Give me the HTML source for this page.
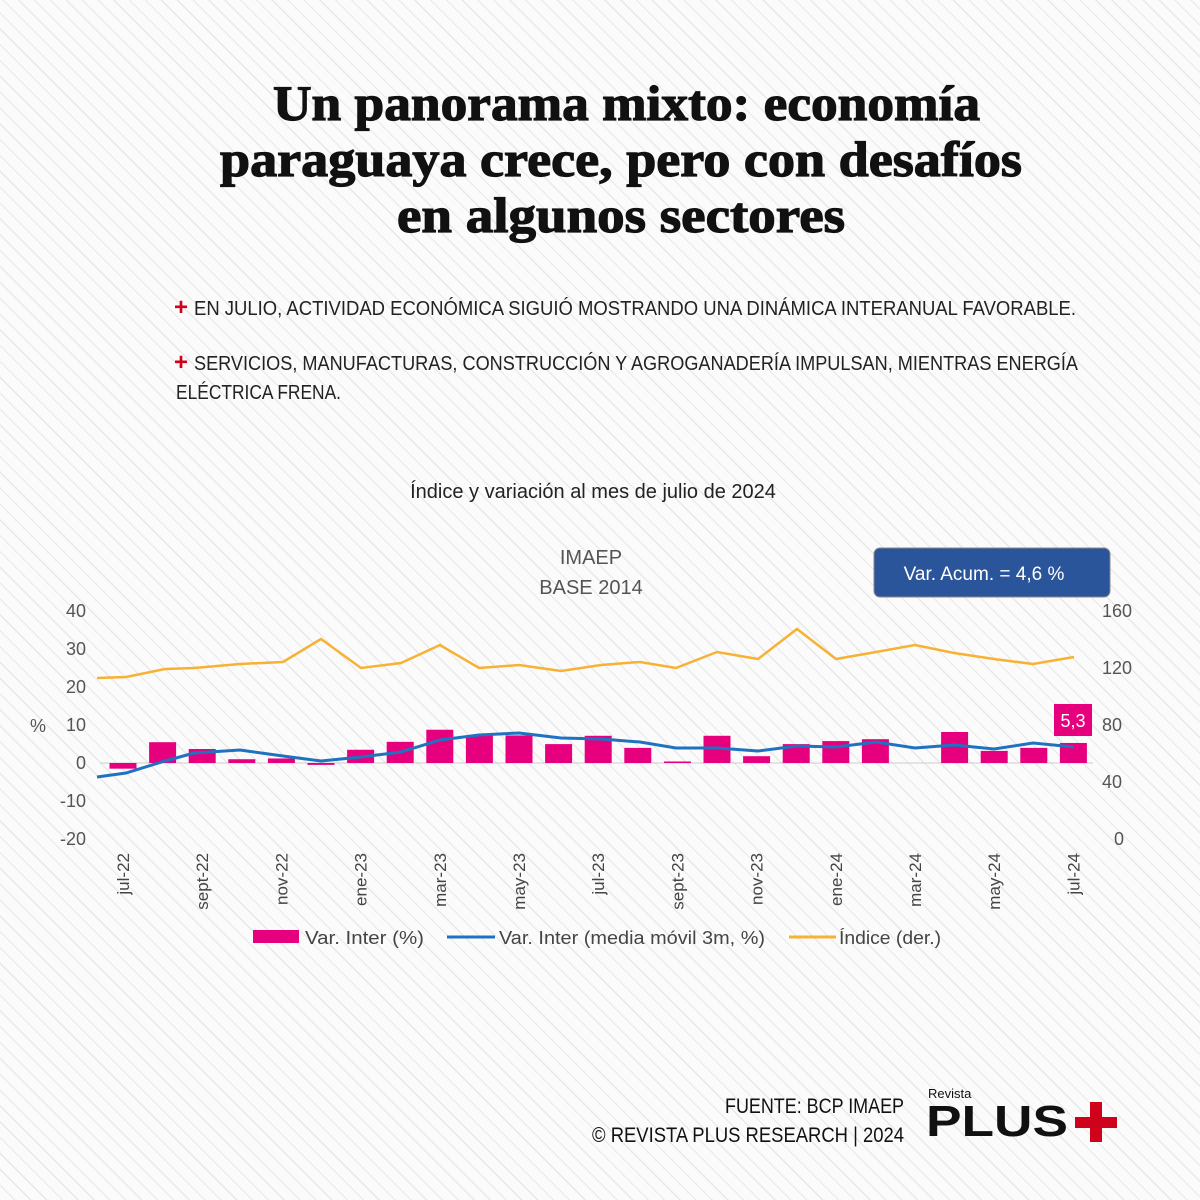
<!DOCTYPE html>
<html><head><meta charset="utf-8"><style>
body{margin:0}
#p{width:1200px;height:1200px;position:relative;overflow:hidden;background:#fbfbfb;
background-image:repeating-linear-gradient(45deg,#fbfbfb 0 10px,#e8e8e8 10px 11.2px);}
svg{position:absolute;left:0;top:0}
</style></head><body><div id="p">
<svg width="1200" height="1200" viewBox="0 0 1200 1200" xmlns="http://www.w3.org/2000/svg">
<g font-family="Liberation Serif, serif" font-weight="bold" font-size="50" fill="#111" stroke="#111" stroke-width="1.2">
<text x="273" y="120" textLength="707" lengthAdjust="spacingAndGlyphs">Un panorama mixto: economía</text>
<text x="220" y="176" textLength="802" lengthAdjust="spacingAndGlyphs">paraguaya crece, pero con desafíos</text>
<text x="397" y="232" textLength="448" lengthAdjust="spacingAndGlyphs">en algunos sectores</text>
</g>
<g font-family="Liberation Sans Narrow, Liberation Sans, sans-serif" font-size="20" fill="#222">
<text x="174" y="315" fill="#d0021b" font-weight="bold" font-size="24">+</text>
<text x="194" y="315" textLength="882" lengthAdjust="spacingAndGlyphs">EN JULIO, ACTIVIDAD ECONÓMICA SIGUIÓ MOSTRANDO UNA DINÁMICA INTERANUAL FAVORABLE.</text>
<text x="174" y="370" fill="#d0021b" font-weight="bold" font-size="24">+</text>
<text x="194" y="370" textLength="884" lengthAdjust="spacingAndGlyphs">SERVICIOS, MANUFACTURAS, CONSTRUCCIÓN Y AGROGANADERÍA IMPULSAN, MIENTRAS ENERGÍA</text>
<text x="176" y="399" textLength="165" lengthAdjust="spacingAndGlyphs">ELÉCTRICA FRENA.</text>
</g>
<g font-family="Liberation Sans, sans-serif">
<text x="593" y="498" font-size="20" fill="#222" text-anchor="middle">Índice y variación al mes de  julio de 2024</text>
<text x="591" y="564" font-size="20" fill="#555" text-anchor="middle">IMAEP</text>
<text x="591" y="594" font-size="20" fill="#555" text-anchor="middle">BASE 2014</text>
<rect x="874" y="548" width="236" height="49" rx="6" fill="#2b559b" stroke="#888" stroke-width="1"/>
<text x="984" y="580" font-size="19" fill="#fff" text-anchor="middle">Var. Acum. =  4,6 %</text>
<g font-size="18" fill="#555" text-anchor="end">
<text x="86" y="617">40</text><text x="86" y="655">30</text><text x="86" y="693">20</text>
<text x="86" y="731">10</text><text x="86" y="769">0</text><text x="86" y="807">-10</text><text x="86" y="845">-20</text>
</g>
<text x="30" y="732" font-size="18" fill="#555">%</text>
<g font-size="18" fill="#555">
<text x="1102" y="617">160</text><text x="1102" y="674">120</text><text x="1102" y="731">80</text>
<text x="1102" y="788">40</text><text x="1114" y="845">0</text>
</g>
<line x1="100" y1="763" x2="1093" y2="763" stroke="#ccc" stroke-width="1"/>
<g fill="#e6007e" id="bars"></g>
<polyline fill="none" stroke="#f7b234" stroke-width="2.5" points="97,678 126,677 165,669 194,668 240,664 283,662 321,639 361,668 401,663 440,645 479,668 519,665 561,671 601,665 640,662 676,668 717,652 758,659 797,629 836,659 876,652 915,645 954,653 994,659 1033,664 1074,657"/>
<polyline fill="none" stroke="#1f72c0" stroke-width="3" points="97,777 126,773 165,761 194,753 240,750 283,756 321,761 361,757 401,752 440,740 479,735 519,733 561,738 601,739 640,742 676,748 717,748 758,751 797,746 836,747 876,742 915,748 954,745 994,749 1033,743 1074,747"/>
<rect x="1054" y="704" width="38" height="32" fill="#e6007e"/>
<text x="1073" y="727" font-size="18" fill="#fff" text-anchor="middle">5,3</text>
<g font-size="17" fill="#444" text-anchor="end" id="xl"></g>
<rect x="253" y="930" width="46" height="13" fill="#e6007e"/>
<text x="305" y="944" font-size="18" fill="#444" textLength="119" lengthAdjust="spacingAndGlyphs">Var. Inter (%)</text>
<line x1="447" y1="937" x2="495" y2="937" stroke="#1f72c0" stroke-width="3"/>
<text x="499" y="944" font-size="18" fill="#444" textLength="266" lengthAdjust="spacingAndGlyphs">Var. Inter (media móvil 3m, %)</text>
<line x1="789" y1="937" x2="836" y2="937" stroke="#f7b234" stroke-width="3"/>
<text x="839" y="944" font-size="18" fill="#444" textLength="102" lengthAdjust="spacingAndGlyphs">Índice (der.)</text>
</g>
<g font-family="Liberation Sans Narrow, Liberation Sans, sans-serif" font-size="21" fill="#111">
<text x="725" y="1113" textLength="179" lengthAdjust="spacingAndGlyphs">FUENTE: BCP IMAEP</text>
<text x="592" y="1142" textLength="312" lengthAdjust="spacingAndGlyphs">© REVISTA PLUS RESEARCH | 2024</text>
</g>
<text x="928" y="1098" font-family="Liberation Sans, sans-serif" font-size="13" fill="#111">Revista</text>
<text x="926" y="1136" font-family="Liberation Sans, sans-serif" font-weight="bold" font-size="44" fill="#111" textLength="142" lengthAdjust="spacingAndGlyphs">PLUS</text>
<rect x="1075" y="1117" width="42" height="11" fill="#d0021b"/><rect x="1090" y="1102" width="12" height="40" fill="#d0021b"/>
</svg>
<script>
var v=[-1.5,5.5,3.7,1,1.2,-0.5,3.5,5.6,8.8,7.3,7.3,5,7.2,4,0.4,7.2,1.8,5,5.8,6.3,0,8.2,3.2,4,5.3];
var g=document.getElementById('bars'),s='';
v.forEach(function(d,i){var cx=123+i*39.6,h=Math.abs(d)*3.78,y=d>=0?763-h:763;s+='<rect x="'+(cx-13.5)+'" y="'+y+'" width="27" height="'+h+'"/>';});
g.innerHTML=s;
var L=['jul-22','sept-22','nov-22','ene-23','mar-23','may-23','jul-23','sept-23','nov-23','ene-24','mar-24','may-24','jul-24'],t='';
L.forEach(function(l,i){var x=129+i*79.2;t+='<text transform="translate('+x+',853) rotate(-90)">'+l+'</text>';});
document.getElementById('xl').innerHTML=t;
</script>
</div></body></html>
